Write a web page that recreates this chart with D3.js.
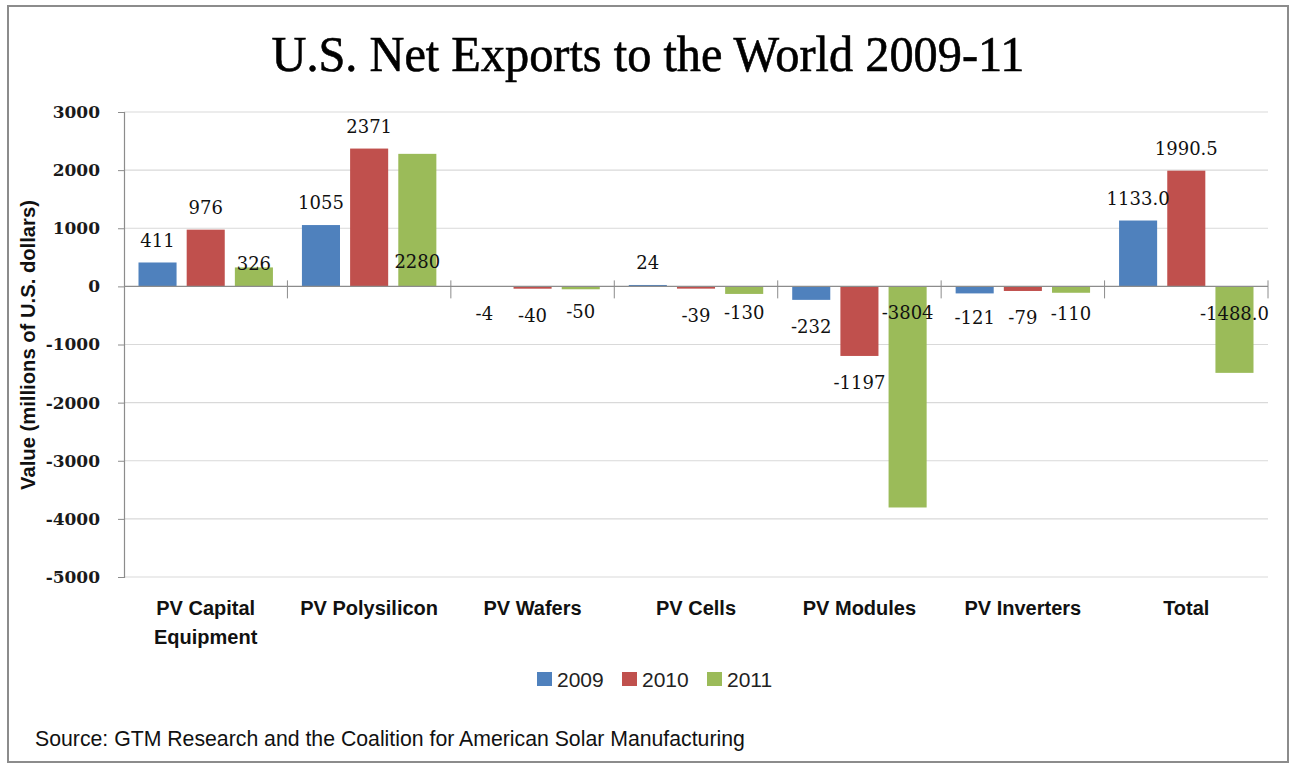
<!DOCTYPE html>
<html><head><meta charset="utf-8">
<script src="https://cdn.jsdelivr.net/npm/d3@7"></script>
<style>body{margin:0;background:#fff}svg{display:block}</style>
</head><body>
<svg id="c" width="1297" height="765"></svg>
<script>
const categories = [["PV Capital","Equipment"],["PV Polysilicon"],["PV Wafers"],["PV Cells"],["PV Modules"],["PV Inverters"],["Total"]];
const seriesNames = ["2009","2010","2011"];
const values2009 = [411, 1055, -4, 24, -232, -121, 1133.0];
const values2010 = [976, 2371, -40, -39, -1197, -79, 1990.5];
const values2011 = [326, 2280, -50, -130, -3804, -110, -1488.0];
const labels2009 = ["411","1055","-4","24","-232","-121","1133.0"];
const labels2010 = ["976","2371","-40","-39","-1197","-79","1990.5"];
const labels2011 = ["326","2280","-50","-130","-3804","-110","-1488.0"];
const yTicks = [3000,2000,1000,0,-1000,-2000,-3000,-4000,-5000];
const colors = ["#4F81BD","#C0504D","#9BBB59"];
// manual label nudges (pixels) as in the original chart
const nudge2009 = [0,0,0,0,0,-3,0];
const nudge2010 = [0,0,0,0,0,0,0];
const nudge2011 = [18,130,-5,-8,-222,-6,-86];

const series = [values2009, values2010, values2011];
const labels = [labels2009, labels2010, labels2011];
const nudges = [nudge2009, nudge2010, nudge2011];

const svg = d3.select("#c");
svg.append("rect").attr("x",8).attr("y",6).attr("width",1280).attr("height",756)
  .attr("fill","#fff").attr("stroke","#8c8c8c").attr("stroke-width",2);

const L=124, R=1268, T=112, B=577;
const x0 = d3.scaleBand().domain(d3.range(categories.length)).range([L,R]).padding(0);
const x1 = d3.scaleBand().domain(d3.range(3)).range([14.5, x0.bandwidth()-14.5]).paddingInner(0.21);
const y = d3.scaleLinear().domain([-5000,3000]).range([B,T]);

// gridlines
svg.append("g").selectAll("line").data(yTicks.filter(t=>t!==0 && t!==-5000)).join("line")
  .attr("x1",L).attr("x2",R).attr("y1",d=>y(d)).attr("y2",d=>y(d))
  .attr("stroke","#d9d9d9").attr("stroke-width",1.2);
svg.append("line").attr("x1",L).attr("x2",R).attr("y1",y(-5000)).attr("y2",y(-5000)).attr("stroke","#d9d9d9").attr("stroke-width",1.2);

// y axis
const yAxis = d3.axisLeft(y).tickValues(yTicks).tickSize(6).tickPadding(18).tickFormat(d=>String(d));
const ga = svg.append("g").attr("transform",`translate(${L},0)`).call(yAxis);
ga.select(".domain").attr("stroke","#8c8c8c").attr("stroke-width",1.2);
ga.selectAll(".tick line").attr("stroke","#8c8c8c");
ga.selectAll(".tick text").attr("font-family","DejaVu Serif").attr("font-weight","bold").attr("font-size",17).attr("fill","#1a1a1a");

// bars
const gBars = svg.append("g");
series.forEach((vals,si)=>{
  gBars.selectAll(null).data(vals).join("rect")
    .attr("x",(d,i)=>x0(i)+x1(si)).attr("width",x1.bandwidth())
    .attr("y",d=>y(Math.max(0,d))).attr("height",d=>Math.abs(y(d)-y(0)))
    .attr("fill",colors[si]);
});

// zero axis line with category ticks
svg.append("line").attr("x1",L).attr("x2",R).attr("y1",y(0)).attr("y2",y(0)).attr("stroke","#8c8c8c").attr("stroke-width",1.2);
svg.append("g").selectAll("line").data(d3.range(1,categories.length+1)).join("line")
  .attr("x1",i=>i===categories.length?R:x0(i)).attr("x2",i=>i===categories.length?R:x0(i))
  .attr("y1",y(0)-6).attr("y2",y(0)+12).attr("stroke","#8c8c8c").attr("stroke-width",1);

// data labels
const gLab = svg.append("g").attr("font-family","DejaVu Serif").attr("font-size",18).attr("fill","#111").attr("text-anchor","middle");
series.forEach((vals,si)=>{
  gLab.selectAll(null).data(vals).join("text")
    .attr("x",(d,i)=>x0(i)+x1(si)+x1.bandwidth()/2)
    .attr("y",(d,i)=>(d>=0? y(d)-22 : y(d)+27) + nudges[si][i])
    .attr("dy","0.35em")
    .text((d,i)=>labels[si][i]);
});

// category labels
const gCat = svg.append("g").attr("font-family","Liberation Sans").attr("font-weight","bold").attr("font-size",20).attr("fill","#111").attr("text-anchor","middle");
categories.forEach((c,i)=>{
  const t = gCat.append("text").attr("x",x0(i)+x0.bandwidth()/2).attr("y",615);
  c.forEach((ln,j)=>t.append("tspan").attr("x",x0(i)+x0.bandwidth()/2).attr("dy",j?29:0).text(ln));
});

// title
svg.append("text").attr("x",648).attr("y",71).attr("text-anchor","middle")
  .attr("font-family","Liberation Serif").attr("font-size",50).attr("fill","#000")
  .attr("stroke","#000").attr("stroke-width",0.6)
  .attr("textLength",753).attr("lengthAdjust","spacingAndGlyphs")
  .text("U.S. Net Exports to the World 2009-11");

// y axis title
const yt = svg.append("text").attr("transform","translate(35,345) rotate(-90)").attr("text-anchor","middle")
  .attr("font-family","Liberation Sans").attr("font-weight","bold").attr("font-size",16).attr("fill","#111")
  .text("Value (millions of U.S. dollars)");
const yw = yt.node().getComputedTextLength();
yt.attr("font-size",16*290/yw);

// legend
const legX=[537,622,707];
const gLeg = svg.append("g");
seriesNames.forEach((n,i)=>{
  gLeg.append("rect").attr("x",legX[i]).attr("y",672).attr("width",15).attr("height",14).attr("fill",colors[i]);
  gLeg.append("text").attr("x",legX[i]+20).attr("y",687).attr("font-family","Liberation Sans").attr("font-size",21).attr("fill","#222").text(n);
});

// source
const src = svg.append("text").attr("x",35).attr("y",746).attr("font-family","Liberation Sans").attr("font-size",16).attr("fill","#111")
  .text("Source: GTM Research and the Coalition for American Solar Manufacturing");
const sw = src.node().getComputedTextLength();
src.attr("font-size",16*710/sw);
</script>
</body></html>
